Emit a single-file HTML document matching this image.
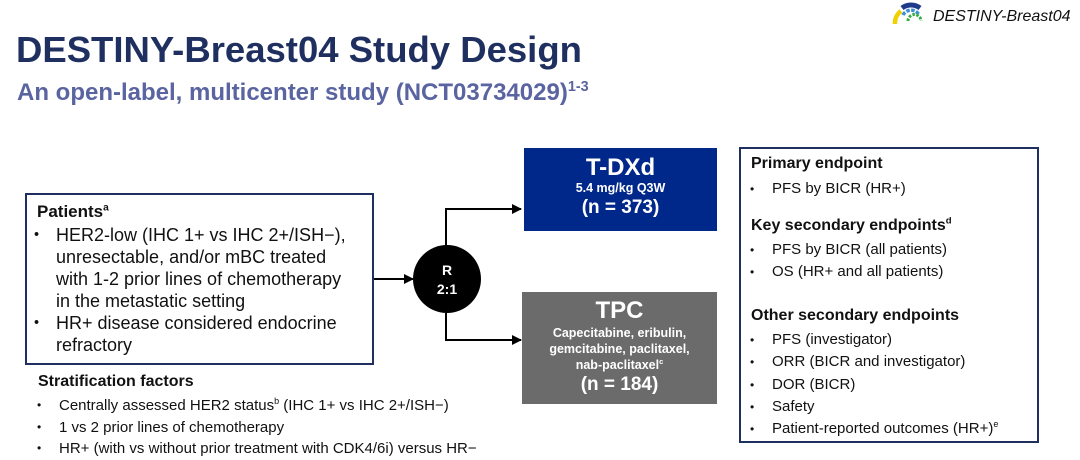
<!DOCTYPE html>
<html><head><meta charset="utf-8"><style>
*{margin:0;padding:0;box-sizing:border-box}
body{width:1080px;height:456px;background:#fff;position:relative;overflow:hidden;font-family:"Liberation Sans",Arial,sans-serif;color:#111}
.a{position:absolute;white-space:nowrap}
sup{font-size:60%;vertical-align:super;line-height:0}
.box{position:absolute;border:2px solid #1f3060}
ul{list-style:none}
li{position:relative}
li:before{content:"•";position:absolute;left:-22px;font-size:80%}
</style></head><body>
<svg class="a" style="left:890px;top:2px" width="42" height="24" viewBox="0 0 42 24">
<path d="M5 22 A15 15 0 0 1 11 9" stroke="#f0d000" stroke-width="4.5" fill="none"/>
<path d="M12 6 A15 15 0 0 1 30 6" stroke="#1f3a8a" stroke-width="5" fill="none"/>
<path d="M13 13 A9 9 0 0 1 29 13" stroke="#3b8fd8" stroke-width="3.5" fill="none" stroke-dasharray="3.5 1.5"/>
<path d="M18 19 A5 5 0 0 1 31 19" stroke="#2fae3c" stroke-width="3" fill="none" stroke-dasharray="2.5 1.5"/>
</svg>
<div class="a" style="left:933px;top:8px;font-size:16px;font-style:italic;color:#111">DESTINY-Breast04</div>
<div class="a" style="left:16px;top:29px;font-size:36.5px;font-weight:bold;color:#1f3060">DESTINY-Breast04 Study Design</div>
<div class="a" style="left:17px;top:79px;font-size:24px;font-weight:bold;color:#5a64a0">An open-label, multicenter study (NCT03734029)<sup>1-3</sup></div>

<div class="box" style="left:25px;top:193px;width:349px;height:172px"></div>
<div class="a" style="left:37px;top:202px;font-size:17px;font-weight:bold">Patients<sup>a</sup></div>
<ul class="a" style="left:56px;top:224px;font-size:18px;line-height:22px">
<li>HER2-low (IHC 1+ vs IHC 2+/ISH−),<br>unresectable, and/or mBC treated<br>with 1-2 prior lines of chemotherapy<br>in the metastatic setting</li>
<li>HR+ disease considered endocrine<br>refractory</li>
</ul>
<div class="a" style="left:38px;top:373px;font-size:16px;font-weight:bold">Stratification factors</div>
<ul class="a" style="left:59px;top:395px;font-size:15px;line-height:21.5px">
<li>Centrally assessed HER2 status<sup>b</sup> (IHC 1+ vs IHC 2+/ISH−)</li>
<li>1 vs 2 prior lines of chemotherapy</li>
<li>HR+ (with vs without prior treatment with CDK4/6i) versus HR−</li>
</ul>

<svg class="a" style="left:0;top:0" width="1080" height="456">
<defs><marker id="ar" markerWidth="10" markerHeight="10" refX="9" refY="5" orient="auto" markerUnits="userSpaceOnUse"><path d="M0,0 L10,5 L0,10 Z" fill="#000"/></marker></defs>
<line x1="374" y1="279" x2="413" y2="279" stroke="#000" stroke-width="2" marker-end="url(#ar)"/>
<polyline points="446,246 446,209 521,209" fill="none" stroke="#000" stroke-width="2" marker-end="url(#ar)"/>
<polyline points="446,313 446,340 521,340" fill="none" stroke="#000" stroke-width="2" marker-end="url(#ar)"/>
<circle cx="447" cy="279" r="34" fill="#000"/>
<text x="447" y="275" fill="#fff" font-size="14" font-weight="bold" text-anchor="middle" font-family="Liberation Sans">R</text>
<text x="447" y="294" fill="#fff" font-size="14" font-weight="bold" text-anchor="middle" font-family="Liberation Sans">2:1</text>
</svg>

<div class="a" style="left:524px;top:148px;width:193px;height:83px;background:#00288a;color:#fff;text-align:center;font-weight:bold">
<div style="font-size:24px;margin-top:7px;line-height:26px">T-DXd</div>
<div style="font-size:12.5px;line-height:15px">5.4 mg/kg Q3W</div>
<div style="font-size:19px;line-height:23px">(n = 373)</div>
</div>
<div class="a" style="left:522px;top:292px;width:195px;height:112px;background:#6b6b6b;color:#fff;text-align:center;font-weight:bold">
<div style="font-size:24px;margin-top:6px;line-height:26px">TPC</div>
<div style="font-size:12.5px;line-height:16px;margin-top:1px">Capecitabine, eribulin,<br>gemcitabine, paclitaxel,<br>nab-paclitaxel<sup>c</sup></div>
<div style="font-size:19px;line-height:23px">(n = 184)</div>
</div>

<div class="box" style="left:739px;top:147px;width:300px;height:296px"></div>
<div class="a" style="left:751px;top:155px;font-size:16px;font-weight:bold">Primary endpoint</div>
<ul class="a" style="left:772px;top:178px;font-size:15px;line-height:22px"><li>PFS by BICR (HR+)</li></ul>
<div class="a" style="left:751px;top:217px;font-size:16px;font-weight:bold">Key secondary endpoints<sup>d</sup></div>
<ul class="a" style="left:772px;top:239px;font-size:15px;line-height:22px"><li>PFS by BICR (all patients)</li><li>OS (HR+ and all patients)</li></ul>
<div class="a" style="left:751px;top:307px;font-size:16px;font-weight:bold">Other secondary endpoints</div>
<ul class="a" style="left:772px;top:329px;font-size:15px;line-height:22.3px"><li>PFS (investigator)</li><li>ORR (BICR and investigator)</li><li>DOR (BICR)</li><li>Safety</li><li>Patient-reported outcomes (HR+)<sup>e</sup></li></ul>
</body></html>
